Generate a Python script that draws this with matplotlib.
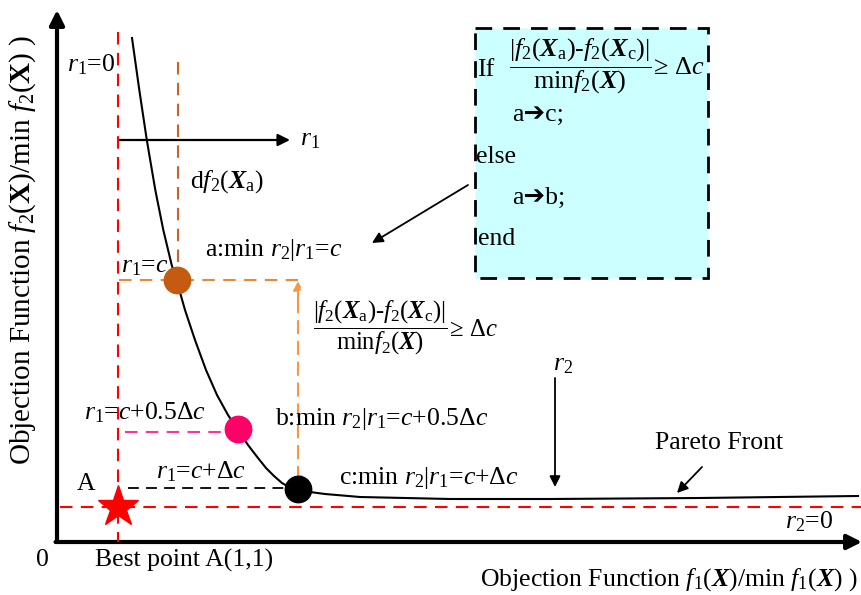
import matplotlib.pyplot as plt
from matplotlib.patches import Rectangle, FancyArrowPatch

plt.rcParams['font.family'] = ['Liberation Serif', 'DejaVu Sans']
plt.rcParams['mathtext.fontset'] = 'custom'
plt.rcParams['mathtext.rm'] = 'Liberation Serif'
plt.rcParams['mathtext.it'] = 'Liberation Serif:italic'
plt.rcParams['mathtext.bf'] = 'Liberation Serif:bold'
plt.rcParams['mathtext.bfit'] = 'Liberation Serif:bold:italic'

# 示意图坐标（画布坐标系，y 向下）
front_x = [132, 139.3, 146.8, 155.3, 163.3, 171.7, 176.5, 185, 195, 206, 217, 228,
           238, 248, 258, 266, 274, 282, 289, 298, 310, 325, 360, 450, 550, 700, 858]
front_y = [38, 90, 140, 190, 230, 265, 280, 310, 340, 370, 395, 415,
           430, 445, 458, 468, 476, 483, 487, 490, 492, 494, 497, 499, 499, 498, 496]

best_pt = (118, 507)          # 最优点 A(1,1)
pt_a = (177, 280)             # a: r1 = c
pt_b = (238, 429)             # b: r1 = c + 0.5Δc
pt_c = (298, 489)             # c: r1 = c + Δc
pt_colors = ['#C55A11', '#FF0066', '#000000']

fs = 18.5
X = r'\mathbfit{X}'
frac = (r'$\dfrac{|f_2(' + X + r'_{\rm a})\text{-}f_2(' + X + r'_{\rm c})|}'
        r'{\mathrm{min}f_2(' + X + r')}\!\geq\,\Delta c$')

fig = plt.figure(figsize=(8.62, 5.95), dpi=100)
ax = fig.add_axes([0, 0, 1, 1])
ax.set_xlim(0, 862)
ax.set_ylim(595, 0)
ax.axis('off')

def arrow(p0, p1, color='black', lw=1.5, style='-|>', ms=14, ls='-'):
    ax.add_patch(FancyArrowPatch(p0, p1, arrowstyle=style, mutation_scale=ms,
                                 color=color, lw=lw, linestyle=ls,
                                 shrinkA=0, shrinkB=0))

# 坐标轴
arrow((57, 542), (57, 10), lw=3, ms=22)
arrow((55.5, 542), (862, 542), lw=3, ms=22)

dash = (0, (6, 4))
# r1=0 与 r2=0 参考线
ax.plot([118, 118], [32, 542], color='red', lw=1.5, ls=dash)
ax.plot([60, 862], [best_pt[1], best_pt[1]], color='red', lw=1.5, ls=dash)
# df2(Xa) 方向线
ax.plot([178, 178], [62, pt_a[1]], color='#C8642A', lw=1.5, ls=dash)
# a 点水平线与竖向双箭头
ax.plot([119, pt_c[0]], [pt_a[1], pt_a[1]], color='#E8893A', lw=1.5, ls=dash)
arrow((pt_c[0], 300), (pt_c[0], pt_a[1] + 1), color='#F79646', lw=1.5, ms=13, ls=dash)
arrow((pt_c[0], 300), (pt_c[0], pt_c[1] - 3), color='#F79646', lw=1.5, ms=13, ls=dash)
# b、c 点水平线
ax.plot([125, 226], [432, 432], color='#FF3399', lw=1.5, ls=dash)
ax.plot([128, 286], [488, 488], color='black', lw=1.3, ls=dash)

# Pareto 前沿
ax.plot(front_x, front_y, color='black', lw=1.5, solid_joinstyle='round')

# 点
ax.plot(*best_pt, marker='*', ms=31, color='red', mec='red', zorder=5)
for p, c in zip([pt_a, pt_b, pt_c], pt_colors):
    ax.plot(*p, marker='o', ms=19, color=c, mec=c, zorder=5)

# r1 方向箭头
arrow((118, 140), (290, 140), lw=1.6, ms=18)
ax.text(300, 140, r'$r_1$', fontsize=fs, va='center')
# r2 方向箭头
arrow((555, 378), (555, 487), lw=1.3, ms=16)
ax.text(553, 365, r'$r_2$', fontsize=fs, va='center')
# Pareto Front 指示
arrow((702, 467), (677, 493), lw=1.3, ms=16)
ax.text(719, 443, 'Pareto Front', fontsize=fs, ha='center', va='center')
# 判断框指向 a
arrow((468, 185), (372, 243), lw=1.3, ms=16)

# 判断框
ax.add_patch(Rectangle((475, 28), 233, 250, facecolor='#CCFFFF',
                       edgecolor='black', lw=2, ls=(0, (6, 4)), zorder=1))
ax.text(477, 70, 'If', fontsize=fs, va='center')
ax.text(509, 66, frac, fontsize=18.8, va='center')
ax.text(512, 115, 'a\u2794c;', fontsize=fs, va='center')
ax.text(476, 157, 'else', fontsize=fs, va='center')
ax.text(512, 198, 'a\u2794b;', fontsize=fs, va='center')
ax.text(478, 239, 'end', fontsize=fs, va='center')

# 注释文字
ax.text(115, 65, r'$r_1$=0', fontsize=fs, ha='right', va='center')
ax.text(190, 182, r'd$f_2($' + r'$' + X + r'_{\rm a})$', fontsize=fs, va='center')
ax.text(205, 250, r'a:min $r_2|r_1$=$c$', fontsize=fs, va='center')
ax.text(121, 267, r'$r_1$=$c$', fontsize=fs, va='center')
ax.text(313, 328, frac, fontsize=17.7, va='center')
ax.text(84, 413, r'$r_1$=$c$+0.5$\Delta c$', fontsize=fs, va='center')
ax.text(275, 419, r'b:min $r_2|r_1$=$c$+0.5$\Delta c$', fontsize=fs, va='center')
ax.text(77, 484, 'A', fontsize=fs, va='center')
ax.text(156, 472, r'$r_1$=$c$+$\Delta c$', fontsize=fs, va='center')
ax.text(339, 478, r'c:min $r_2|r_1$=$c$+$\Delta c$', fontsize=fs, va='center')
ax.text(785, 522, r'$r_2$=0', fontsize=fs, va='center')
ax.text(42, 560, '0', fontsize=fs, ha='center', va='center')
ax.text(95, 560, 'Best point A(1,1)', fontsize=fs, va='center')
ax.text(858, 580, r'Objection Function $f_1($' + r'$' + X + r')$/min $f_1($' + r'$' + X + r')$ )',
        fontsize=fs, ha='right', va='center')
ax.text(23, 250, r'Objection Function $f_2($' + r'$\mathbf{X})$/min $f_2($' + r'$\mathbf{X})$ )',
        fontsize=21, ha='center', va='center', rotation=90)

fig.savefig('out.png', dpi=100)
